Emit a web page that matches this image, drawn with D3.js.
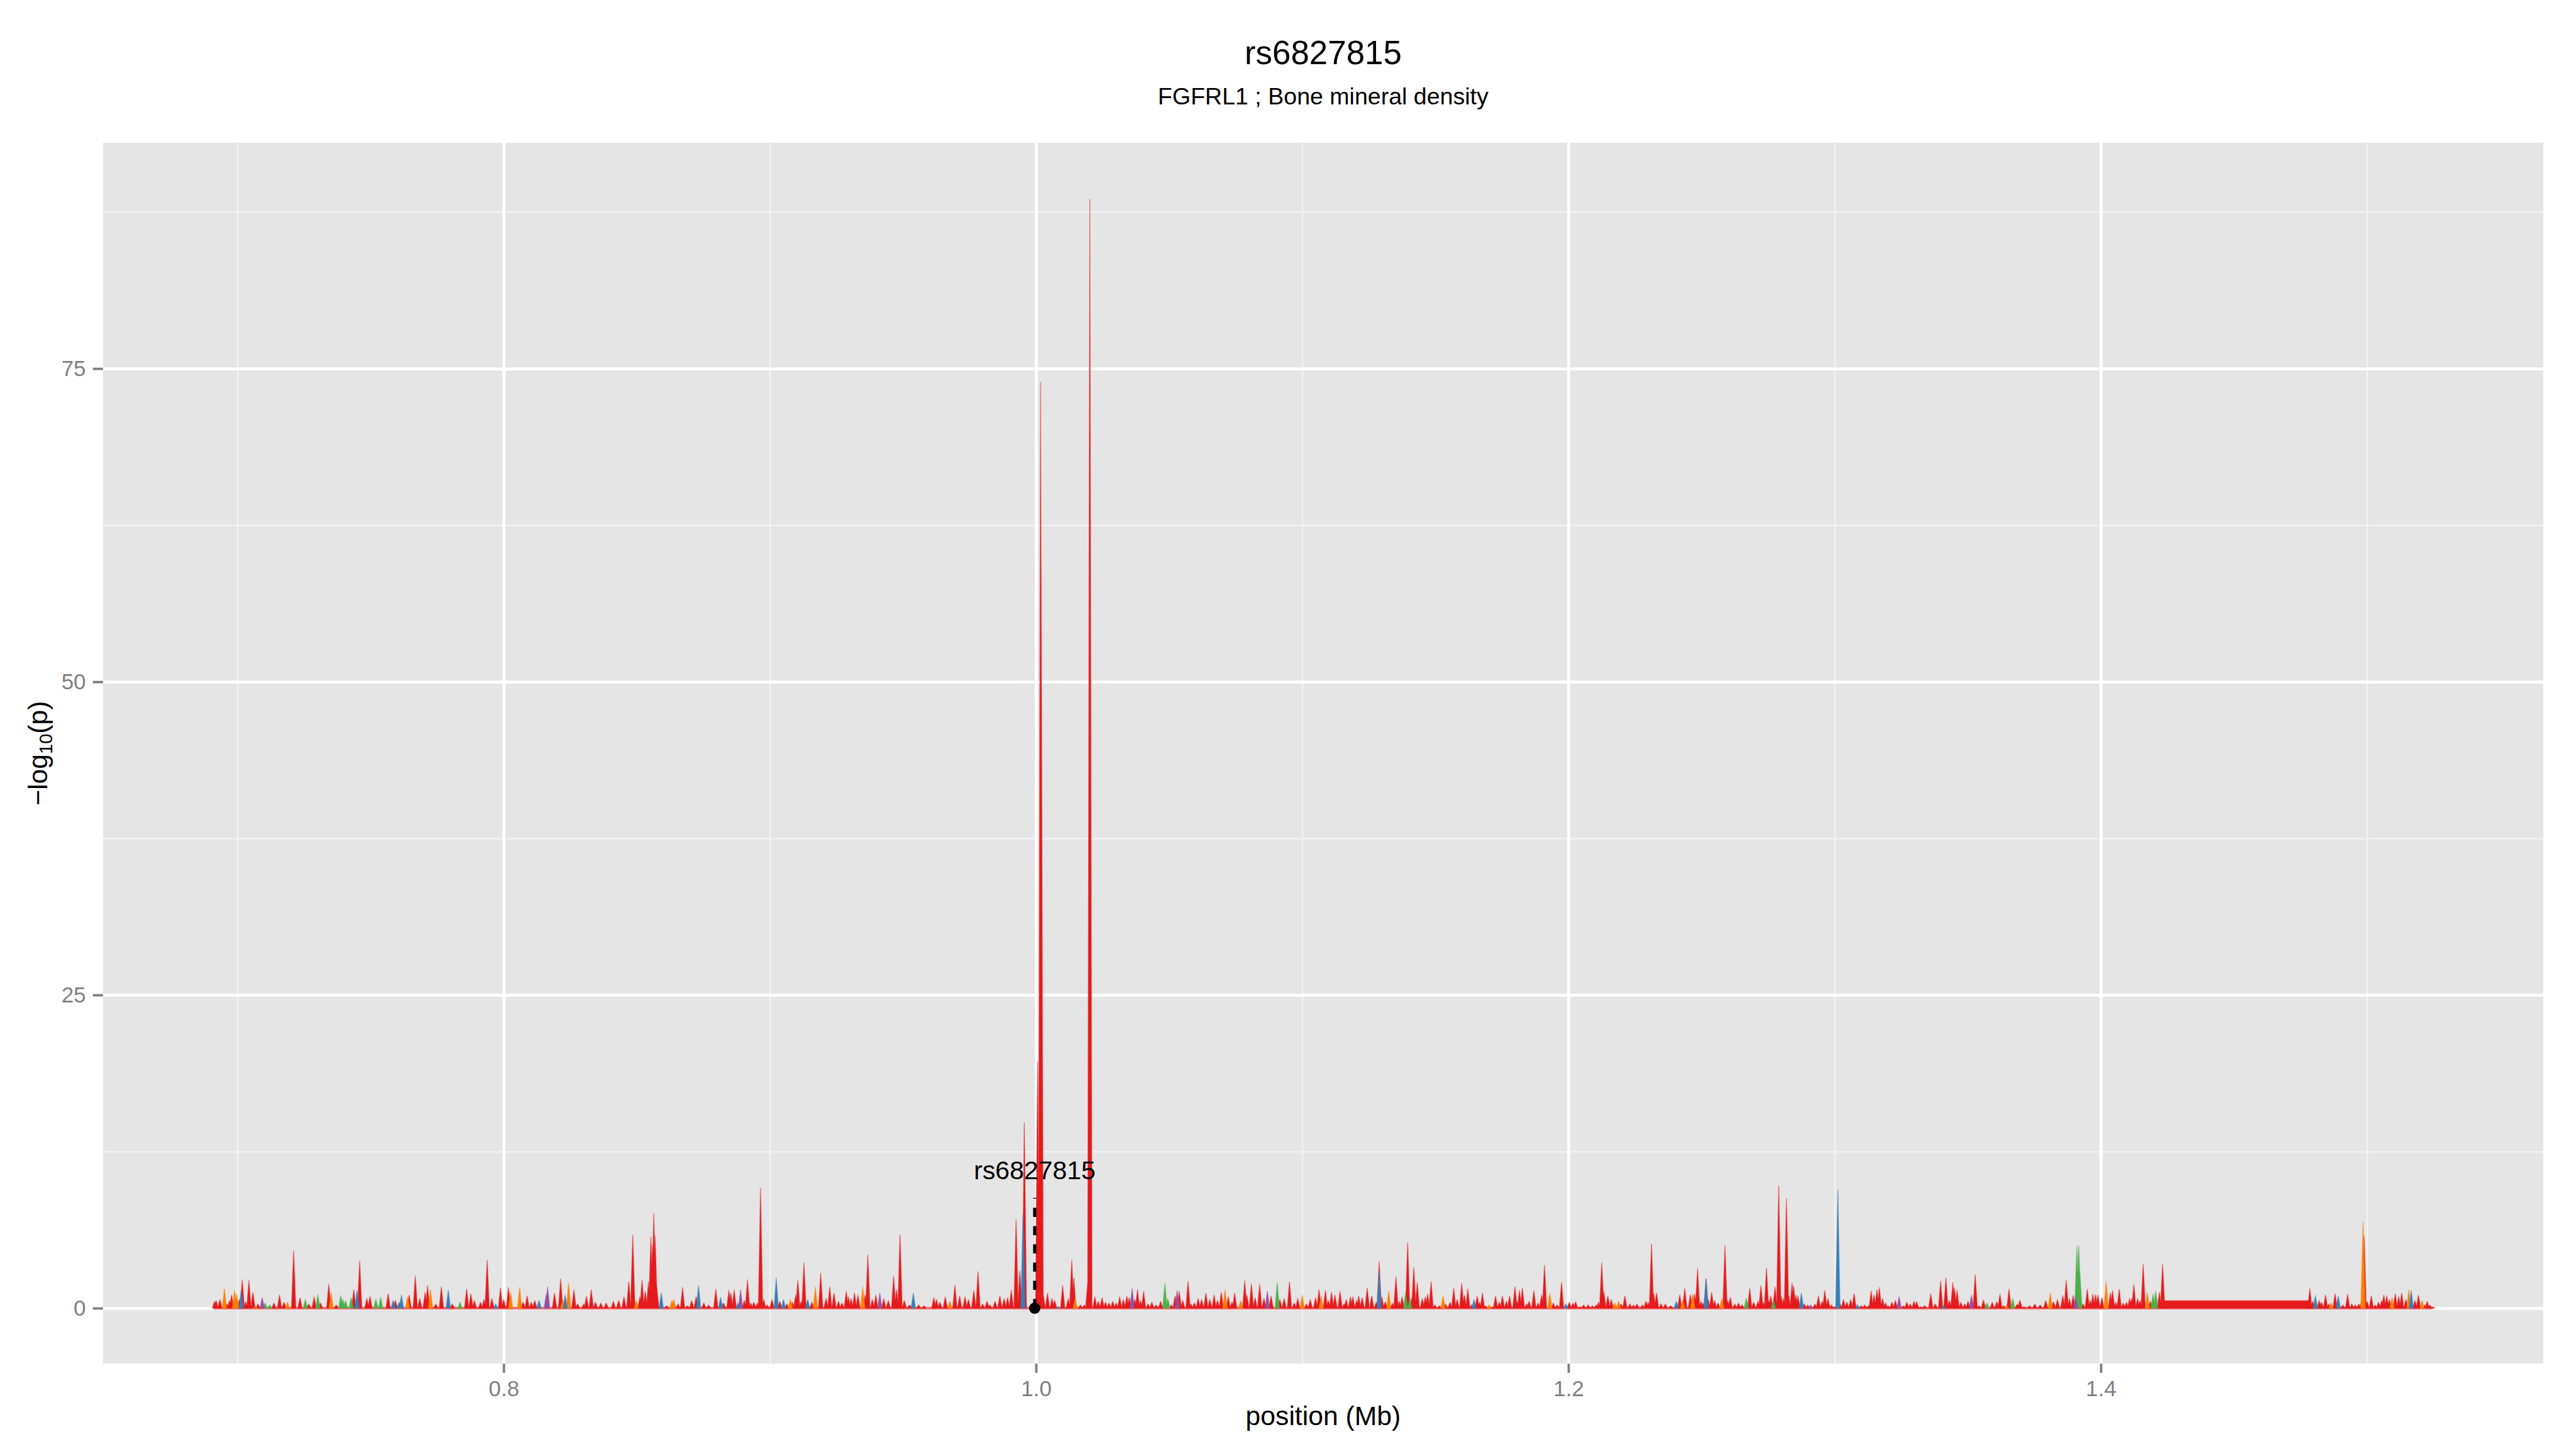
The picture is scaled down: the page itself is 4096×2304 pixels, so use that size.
<!DOCTYPE html>
<html><head><meta charset="utf-8">
<script src="https://cdn.jsdelivr.net/npm/d3@7"></script>
<style>html,body{margin:0;padding:0;background:#fff;overflow:hidden;} svg{display:block;}</style>
</head><body>
<svg id="chart" width="4096" height="2304" viewBox="0 0 4800 2700"></svg>
<script>
// ---------------- data ----------------
const titleText = "rs6827815";
const subtitleText = "FGFRL1 ; Bone mineral density";
const xLabel = "position (Mb)";
const xTicks = [0.8, 1.0, 1.2, 1.4];
const xTickLabels = ["0.8", "1.0", "1.2", "1.4"];
const xMinor = [0.7, 0.9, 1.1, 1.3, 1.5];
const yTicks = [0, 25, 50, 75];
const yTickLabels = ["0", "25", "50", "75"];
const yMinor = [12.5, 37.5, 62.5, 87.5];
const xDomain = [0.6495, 1.5662];
const yDomain = [-4.43, 93.03];
const snpName = "rs6827815";
const snpPos = 0.9995;
const snpLineTop = 8.8;
const snpLabelY = 10.3;
const dataRange = [0.6911, 1.5246];

const redPeaks = [
[0.6914,0.54],[0.6920,0.61],[0.6934,0.69],[0.6960,0.33],[0.6970,0.61],[0.6978,1.04],[0.7007,0.69],[0.7018,2.26],[0.7031,0.50],[0.7043,2.21],[0.7058,1.26],[0.7077,0.33],[0.7137,0.40],[0.7158,1.04],[0.7175,0.47],[0.7211,4.57],[0.7235,0.83],[0.7268,0.33],[0.7288,0.90],[0.7312,0.40],[0.7343,1.90],[0.7371,0.26],[0.7437,1.47],[0.7459,3.76],[0.7486,0.76],[0.7498,0.93],[0.7566,1.14],[0.7593,0.61],[0.7645,1.04],[0.7668,2.57],[0.7685,0.76],[0.7705,1.26],[0.7714,1.79],[0.7745,0.33],[0.7766,1.69],[0.7807,0.33],[0.7861,1.53],[0.7877,1.14],[0.7890,0.61],[0.7913,0.47],[0.7926,0.69],[0.7938,3.83],[0.7956,0.76],[0.7988,1.61],[0.8000,0.69],[0.8018,1.64],[0.8073,0.47],[0.8088,0.97],[0.8104,0.47],[0.8117,0.61],[0.8191,1.19],[0.8214,2.33],[0.8264,1.47],[0.8278,0.33],[0.8301,0.33],[0.8311,0.94],[0.8329,1.47],[0.8345,0.47],[0.8365,0.40],[0.8385,0.40],[0.8412,0.54],[0.8432,0.61],[0.8452,0.90],[0.8470,2.11],[0.8485,5.83],[0.8512,0.90],[0.8520,2.23],[0.8532,1.33],[0.8544,2.11],[0.8553,5.68],[0.8559,5.04],[0.8564,7.55],[0.8569,5.76],[0.8575,1.76],[0.8612,0.19],[0.8655,0.33],[0.8672,1.64],[0.8690,0.19],[0.8706,0.61],[0.8723,0.90],[0.8752,0.40],[0.8770,0.26],[0.8797,1.50],[0.8826,0.40],[0.8846,1.40],[0.8853,1.19],[0.8866,1.43],[0.8904,0.61],[0.8916,2.26],[0.8928,0.40],[0.8940,0.47],[0.8953,0.40],[0.8965,9.57],
[0.8977,0.69],[0.8990,0.26],[0.9008,0.69],[0.9037,0.54],[0.9064,0.33],[0.9084,0.47],[0.9097,1.04],[0.9105,2.21],[0.9118,0.54],[0.9128,3.61],[0.9158,0.47],[0.9191,2.80],[0.9211,0.76],[0.9225,1.69],[0.9241,1.19],[0.9258,0.54],[0.9271,0.40],[0.9287,1.33],[0.9295,0.90],[0.9305,0.76],[0.9318,1.19],[0.9331,1.04],[0.9358,1.04],[0.9368,4.23],[0.9385,0.69],[0.9398,1.04],[0.9428,0.76],[0.9445,0.61],[0.9465,2.54],[0.9476,1.47],[0.9489,5.86],[0.9505,0.61],[0.9525,0.26],[0.9559,0.26],[0.9579,0.19],[0.9616,0.83],[0.9626,0.69],[0.9639,0.47],[0.9659,0.90],[0.9695,1.83],[0.9713,0.97],[0.9733,0.90],[0.9746,0.69],[0.9766,1.40],[0.9782,2.90],[0.9799,0.33],[0.9816,0.54],[0.9826,0.26],[0.9846,0.54],[0.9864,0.97],[0.9880,0.76],[0.9893,0.83],[0.9907,1.44],[0.9925,7.07],[0.9939,2.97],[0.9956,14.8],[1.0006,19.7],[1.0017,73.9],[1.0019,59.5],[1.0027,1.04],[1.0043,1.19],[1.0060,0.76],[1.0070,0.61],[1.0100,1.79],[1.0121,0.76],[1.0134,3.80],[1.0142,2.40],[1.0167,0.26],[1.0181,0.26],[1.0194,2.04],[1.0202,88.5],[1.0221,0.90],[1.0234,0.54],[1.0248,0.83],[1.0261,0.47],[1.0274,0.40],[1.0288,0.54],[1.0301,0.40],[1.0314,0.90],[1.0328,0.69],[1.0341,0.97],[1.0350,0.83],[1.0371,0.69],[1.0381,1.47],[1.0392,0.61],[1.0404,1.33],[1.0421,0.33],[1.0435,0.47],[1.0451,0.26],[1.0468,0.54],[1.0508,0.26],[1.0522,0.97],[1.0538,1.33],[1.0551,0.61],[1.0571,2.14],[1.0582,0.33],[1.0595,0.40],[1.0609,0.76],[1.0622,0.69],[1.0638,1.19],[1.0653,0.69],[1.0669,1.04],[1.0682,0.61],[1.0696,1.26],[1.0722,0.90],[1.0736,0.47],[1.0746,1.19],[1.0784,2.19],[1.0792,1.04],[1.0809,1.93],[1.0823,0.83],[1.0840,1.90],[1.0856,0.76],[1.0883,0.97],[1.0916,0.69],[1.0932,0.76],[1.0952,2.10],[1.0970,0.40],[1.0983,0.76],[1.1016,0.33],[1.1030,0.69],[1.1050,0.83],[1.1063,1.47],
[1.1087,1.40],[1.1098,0.61],[1.1110,1.26],[1.1123,1.04],[1.1142,1.33],[1.1157,0.33],[1.1165,0.69],[1.1181,0.90],[1.1190,0.90],[1.1204,0.61],[1.1212,0.97],[1.1225,0.83],[1.1244,1.61],[1.1261,0.97],[1.1278,0.47],[1.1289,3.71],[1.1299,0.90],[1.1312,0.50],[1.1339,0.40],[1.1352,2.50],[1.1364,0.54],[1.1375,0.90],[1.1396,5.21],[1.1412,0.83],[1.1419,3.26],[1.1432,2.04],[1.1451,0.76],[1.1462,0.90],[1.1471,1.11],[1.1484,2.11],[1.1498,0.26],[1.1515,0.19],[1.1538,0.33],[1.1555,0.47],[1.1569,1.59],[1.1582,0.69],[1.1599,1.97],[1.1609,1.04],[1.1622,1.54],[1.1636,0.26],[1.1657,0.97],[1.1666,0.47],[1.1677,1.19],[1.1689,0.19],[1.1713,0.11],[1.1726,0.97],[1.1740,0.47],[1.1752,0.97],[1.1767,0.54],[1.1779,0.97],[1.1799,1.71],[1.1807,0.54],[1.1816,1.40],[1.1827,1.61],[1.1843,0.33],[1.1852,0.54],[1.1870,1.40],[1.1886,0.40],[1.1899,1.04],[1.1910,3.43],[1.1943,0.40],[1.1958,0.26],[1.1974,2.04],[1.2003,0.47],[1.2017,0.40],[1.2027,0.50],[1.2043,0.11],[1.2057,0.26],[1.2074,0.26],[1.2090,0.19],[1.2104,0.26],[1.2113,0.47],[1.2125,3.61],[1.2133,1.33],[1.2148,0.97],[1.2161,0.69],[1.2197,0.33],[1.2212,0.97],[1.2231,0.33],[1.2244,0.26],[1.2257,0.33],[1.2278,0.26],[1.2291,0.54],[1.2300,0.47],[1.2312,5.11],[1.2320,1.19],[1.2331,1.21],[1.2348,0.33],[1.2364,0.33],[1.2384,0.19],[1.2418,1.04],[1.2437,1.57],[1.2458,1.07],[1.2474,1.11],[1.2485,3.14],[1.2498,0.54],[1.2506,0.40],[1.2517,2.33],[1.2525,0.69],[1.2538,1.26],[1.2549,0.61],[1.2562,0.40],[1.2588,4.97],[1.2598,0.61],[1.2608,0.86],[1.2625,0.33],[1.2639,0.40],[1.2652,0.26],[1.2681,1.57],[1.2696,0.47],[1.2712,0.54],[1.2723,1.79],[1.2732,0.47],[1.2744,3.18],[1.2752,0.61],[1.2760,0.97],[1.2776,1.69],[1.2790,9.75],[1.2799,0.97],[1.2808,0.76],[1.2819,8.75],[1.2827,1.04],[1.2840,2.00],[1.2846,1.76],[1.2854,1.04],[1.2862,0.97],[1.2886,0.33],[1.2899,0.26],[1.2926,0.33],[1.2939,0.97],[1.2953,0.54],[1.2963,1.40],[1.2975,0.76],[1.2988,0.26],[1.3001,0.11],[1.3020,0.33],[1.3033,0.69],[1.3046,0.47],[1.3060,0.69],[1.3073,1.14],[1.3100,0.19],[1.3113,0.26],[1.3127,0.19],[1.3137,1.37],[1.3148,1.04],[1.3159,1.47],
[1.3168,1.64],[1.3180,0.76],[1.3191,0.40],[1.3201,0.19],[1.3215,0.47],[1.3228,0.61],[1.3258,0.19],[1.3271,0.47],[1.3284,0.33],[1.3298,0.54],[1.3308,0.51],[1.3324,0.11],[1.3338,0.19],[1.3361,1.14],[1.3378,0.33],[1.3398,2.14],[1.3418,2.41],[1.3431,0.61],[1.3444,2.04],[1.3450,1.61],[1.3460,1.43],[1.3474,0.47],[1.3489,0.33],[1.3501,0.54],[1.3528,2.68],[1.3542,0.19],[1.3559,0.64],[1.3592,0.47],[1.3609,0.50],[1.3621,1.10],[1.3635,0.19],[1.3655,1.53],[1.3686,0.33],[1.3696,0.64],[1.3712,0.11],[1.3732,0.19],[1.3752,0.33],[1.3772,0.26],[1.3793,0.61],[1.3822,0.50],[1.3837,0.69],[1.3857,1.00],[1.3870,2.23],[1.3882,0.76],[1.3896,1.00],[1.3933,0.33],[1.3949,1.51],[1.3960,0.61],[1.3970,1.11],[1.3980,1.07],[1.3989,1.04],[1.4004,0.83],[1.4036,1.21],[1.4044,1.40],[1.4056,0.47],[1.4069,1.51],[1.4084,0.40],[1.4096,0.47],[1.4108,0.76],[1.4116,0.76],[1.4124,1.87],[1.4138,0.76],[1.4147,0.61],[1.4159,3.50],[1.4186,0.54],[1.4220,1.26],[1.4232,3.53],
[1.4785,1.54],[1.4796,0.54],[1.4820,0.61],[1.4829,0.47],[1.4844,1.04],[1.4856,0.33],[1.4880,1.14],[1.4909,0.26],[1.4927,1.10],[1.4943,0.33],[1.4956,0.26],[1.4969,0.33],[1.4979,0.47],[1.4989,5.76],[1.5000,0.54],[1.5016,0.97],[1.5030,0.26],[1.5043,0.47],[1.5055,0.61],[1.5063,1.04],[1.5074,0.97],[1.5084,0.69],[1.5106,1.14],[1.5119,0.93],[1.5130,1.19],[1.5146,0.69],[1.5180,0.61],[1.5193,1.04],[1.5217,0.26],[1.5226,0.54],[1.5236,0.26],[1.5246,0.11]
];
const redPlateau = [[1.4236, 0.58], [1.4781, 0.58]];

const bluePeaks = [
[0.7014,1.40],[0.7449,1.40],[0.7585,0.61],[0.7607,0.47],[0.7616,1.04],[0.7792,1.43],[0.7970,0.33],[0.8133,0.61],[0.8231,1.04],[0.8592,1.21],[0.8732,1.80],[0.8815,0.86],[0.8880,0.40],
[0.9024,2.40],[0.9051,0.69],[0.9142,0.69],[0.9539,1.19],[0.9951,7.5],[1.0084,0.11],
[1.1289,3.04],[1.1645,0.69],[1.1990,0.33],[1.2405,0.54],[1.2517,2.33],[1.2875,1.19],[1.3012,9.44],[1.3086,0.26],
[1.3409,0.19],[1.4806,1.00],[1.4892,0.97],[1.5166,1.40]
];
const greenPeaks = [
[0.7104,0.40],[0.7121,0.26],[0.7255,0.69],[0.7302,1.07],[0.7388,1.00],[0.7396,0.70],[0.7406,0.61],[0.7427,0.83],[0.7520,0.71],[0.7538,0.86],[0.7836,0.47],
[1.0484,1.97],[1.0495,0.76],[1.0906,2.04],
[1.1388,1.19],[1.1404,0.76],[1.2668,0.80],[1.2770,0.61],
[1.3572,0.40],[1.3669,0.76],[1.3910,4.90],[1.3917,5.00],[1.3921,2.90],[1.4196,1.11],[1.4206,1.36]
];
const purplePeaks = [
[0.7093,0.83],[0.8160,1.11],[0.8165,1.69],[0.8890,1.47],
[0.9413,1.19],[1.0361,1.57],[1.0530,1.40],[1.0869,1.36],
[1.2910,0.26],[1.3242,0.93],[1.3514,1.04],[1.3906,0.90]
];
const orangePeaks = [
[0.6951,1.54],[0.6989,1.40],[0.6997,1.11],[0.7068,0.11],[0.7188,0.47],[0.7352,1.21],[0.7639,0.90],[0.7725,1.47],[0.8026,1.26],[0.8060,1.64],[0.8222,0.69],[0.8244,1.97],[0.8498,0.61],[0.8632,0.61],[0.8639,0.69],
[0.9077,0.69],[0.9171,1.69],[0.9349,1.69],[0.9676,0.54],[1.0147,0.76],[1.0710,1.47],[1.0769,0.59],[1.1000,1.01],
[1.1071,0.94],[1.1325,1.33],[1.1529,0.97],[1.1702,0.26],[1.1930,1.19],[1.2174,0.40],[1.2188,0.54],[1.2429,0.61],[1.2467,1.11],[1.2576,0.76],
[1.3645,0.19],[1.3810,1.19],[1.4020,2.11],[1.4175,1.26],[1.4865,0.40],[1.4985,6.87],[1.5094,0.83],[1.5157,1.47],[1.5207,0.61]
];
const seriesColors = {red:"#E41A1C", blue:"#377EB8", green:"#4DAF4A", purple:"#984EA3", orange:"#FF7F00"};

// ---------------- layout ----------------
const W = 4800, H = 2700;
const P = {left:192, right:4739, top:266, bottom:2541};
const FONT = "'Liberation Sans', Arial, Helvetica, sans-serif";
const svg = d3.select("#chart");
const x = d3.scaleLinear().domain(xDomain).range([P.left, P.right]);
const y = d3.scaleLinear().domain(yDomain).range([P.bottom, P.top]);

svg.append("rect").attr("width", W).attr("height", H).attr("fill", "#fff");
svg.append("rect").attr("x", P.left).attr("y", P.top).attr("width", P.right - P.left).attr("height", P.bottom - P.top).attr("fill", "#E5E5E5");

// grid lines via axes
function grid(axis, vals, width, color, transform) {
  const g = svg.append("g").attr("transform", transform).call(axis.tickValues(vals).tickFormat(""));
  g.select(".domain").remove();
  g.selectAll("line").attr("stroke", color).attr("stroke-width", width);
}
grid(d3.axisBottom(x).tickSize(-(P.bottom - P.top)), xMinor, 3, "#F2F2F2", `translate(0,${P.bottom})`);
grid(d3.axisLeft(y).tickSize(-(P.right - P.left)), yMinor, 3, "#F2F2F2", `translate(${P.left},0)`);
grid(d3.axisBottom(x).tickSize(-(P.bottom - P.top)), xTicks, 5.5, "#FFFFFF", `translate(0,${P.bottom})`);
grid(d3.axisLeft(y).tickSize(-(P.right - P.left)), yTicks, 5.5, "#FFFFFF", `translate(${P.left},0)`);

// spikes
const hwPx = 4;
const dHalf = x.invert(P.left + hwPx) - x.invert(P.left);
const area = d3.area().x(d => x(d[0])).y0(y(0)).y1(d => y(d[1]));
function spikes(peaks) {
  return peaks.map(([p, v]) => area([[p - dHalf, 0], [p, v], [p + dHalf, 0]])).join("");
}
const plot = svg.append("g");
plot.append("path").attr("d", d3.line().x(d => x(d[0])).y(d => y(d[1]))(dataRange.map(p => [p, 0])))
  .attr("stroke", seriesColors.red).attr("stroke-opacity", 0.6).attr("stroke-width", 5).attr("fill", "none");
const plateauPts = [[redPlateau[0][0] - dHalf, 0], ...redPlateau, [redPlateau[1][0] + dHalf, 0]];
plot.append("path").attr("d", area(plateauPts))
  .attr("fill", seriesColors.red).attr("stroke", seriesColors.red).attr("stroke-opacity", 0.5).attr("stroke-width", 3);
[["red", redPeaks], ["orange", orangePeaks], ["green", greenPeaks], ["purple", purplePeaks], ["blue", bluePeaks]].forEach(([c, pk]) => {
  plot.append("path").attr("d", spikes(pk))
    .attr("fill", seriesColors[c]).attr("stroke", seriesColors[c])
    .attr("stroke-opacity", 0.45).attr("stroke-width", 2).attr("stroke-linejoin", "round");
});

// SNP marker
plot.append("path").attr("d", d3.line().x(d => x(d[0])).y(d => y(d[1]))([[snpPos, 0], [snpPos, snpLineTop]]))
  .attr("stroke", "#000").attr("stroke-width", 6).attr("stroke-dasharray", "17,17").attr("fill", "none");
plot.append("circle").attr("cx", x(snpPos)).attr("cy", y(0)).attr("r", 10.5).attr("fill", "#000");
plot.append("text").attr("x", x(snpPos)).attr("y", y(snpLabelY)).attr("text-anchor", "middle")
  .attr("font-family", FONT).attr("font-size", 48).attr("fill", "#000").text(snpName);

// axes
const xAxis = svg.append("g").attr("transform", `translate(0,${P.bottom})`)
  .call(d3.axisBottom(x).tickValues(xTicks).tickFormat((d, i) => xTickLabels[i]).tickSize(17).tickPadding(15));
const yAxis = svg.append("g").attr("transform", `translate(${P.left},0)`)
  .call(d3.axisLeft(y).tickValues(yTicks).tickFormat((d, i) => yTickLabels[i]).tickSize(19).tickPadding(13));
[xAxis, yAxis].forEach(g => {
  g.select(".domain").remove();
  g.selectAll("line").attr("stroke", "#7F7F7F").attr("stroke-width", 4.5);
  g.selectAll("text").attr("fill", "#7F7F7F").attr("font-size", 41).attr("font-family", FONT);
});

// titles
svg.append("text").attr("x", (P.left + P.right) / 2).attr("y", 120).attr("text-anchor", "middle")
  .attr("font-family", FONT).attr("font-size", 62).attr("fill", "#000").text(titleText);
svg.append("text").attr("x", (P.left + P.right) / 2).attr("y", 195).attr("text-anchor", "middle")
  .attr("font-family", FONT).attr("font-size", 44).attr("fill", "#000").text(subtitleText);
svg.append("text").attr("x", (P.left + P.right) / 2).attr("y", 2655).attr("text-anchor", "middle")
  .attr("font-family", FONT).attr("font-size", 50).attr("fill", "#000").text(xLabel);
const yt = svg.append("text").attr("transform", `translate(88,${(P.top + P.bottom) / 2}) rotate(-90)`)
  .attr("text-anchor", "middle").attr("font-family", FONT).attr("font-size", 50).attr("fill", "#000");
yt.append("tspan").text("\u2212log");
yt.append("tspan").attr("font-size", 34).attr("dy", 9).text("10");
yt.append("tspan").attr("dy", -9).text("(p)");
</script>
</body></html>
